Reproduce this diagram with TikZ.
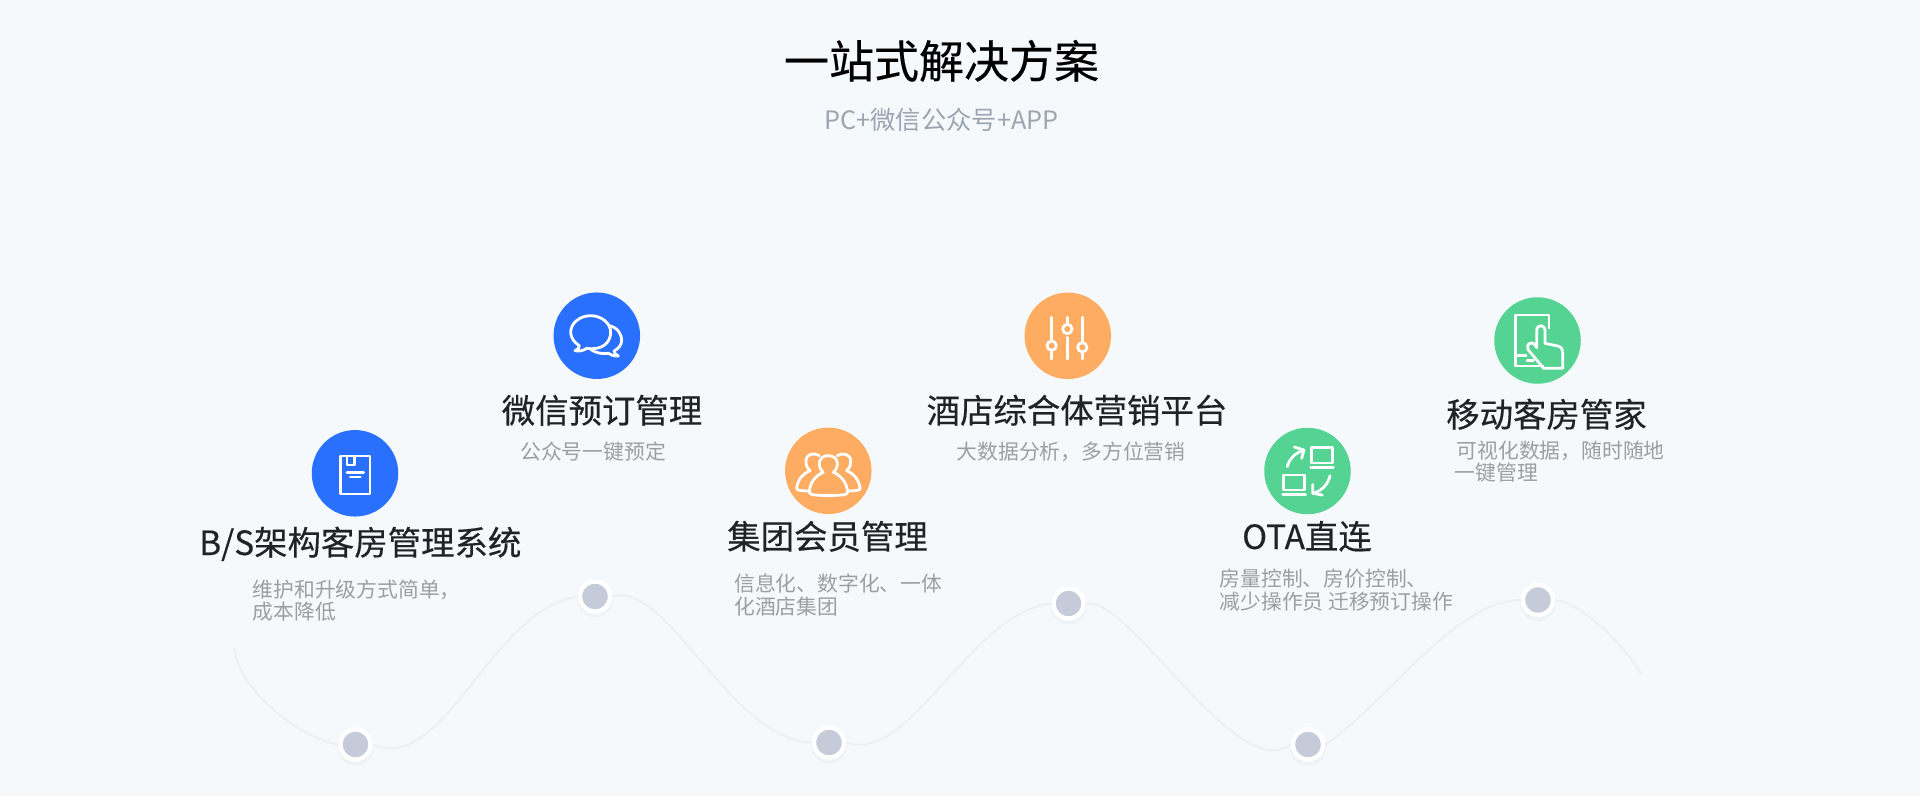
\documentclass[tikz,border=0pt]{standalone}
\usepackage{fontspec}
\setmainfont{Noto Sans CJK SC}
\newfontfamily\strongface[FakeBold=0.35]{Noto Sans CJK SC}
\definecolor{pagebg}{HTML}{F6F9FC}
\definecolor{bluec}{HTML}{2970FF}
\definecolor{orangec}{HTML}{FFAC63}
\definecolor{greenc}{HTML}{55D393}
\definecolor{dotc}{HTML}{C5CBD9}
\definecolor{curvec}{HTML}{ECEFF4}
\definecolor{headc}{HTML}{1F2226}
\definecolor{subc}{HTML}{9B9EA2}
\definecolor{subtitlec}{HTML}{9AA5B1}
\tikzset{
  disc/.style={circle,minimum size=86.5pt,inner sep=0pt,draw=none},
  track/.style={circle,minimum size=30pt,inner sep=0pt,fill=dotc,draw=white,line width=4.4pt},
  halo/.style={circle,minimum size=36pt,inner sep=0pt,fill=black,fill opacity=0.025,draw=none},
  head/.style={anchor=base,inner sep=0pt,text=headc,font=\strongface\fontsize{33.4}{36}\selectfont},
  note/.style={anchor=west,inner sep=0pt,align=left,text=subc,font=\fontsize{20.8}{22.5}\selectfont},
  glyph/.style={draw=white,line width=2.8pt,line cap=round,line join=round},
}
\begin{document}
\begin{tikzpicture}[x=1pt,y=-1pt]
\useasboundingbox (0,0) rectangle (1920,796);
\fill[pagebg] (0,0) rectangle (1920,796);

\coordinate (cs) at (234.4,648);
\coordinate (ce) at (1640.6,673);
\coordinate (d1p) at (355.5,744.5);
\coordinate (d2p) at (595,596.5);
\coordinate (d3p) at (829,742.5);
\coordinate (d4p) at (1068.5,603.5);
\coordinate (d5p) at (1308,744.5);
\coordinate (d6p) at (1538,600);

\foreach \n/\p in {a/d1p,b/d2p,c/d3p,d/d4p,e/d5p,f/d6p}{
  \node[halo] at ([yshift=-3pt]\p) {};
  \node[track] (dot\n) at (\p) {};
}

\draw[curvec,line width=1.8pt,line cap=round]
 (cs) .. controls (238,690) and (300,738) .. (dota.west)
 (dota.east) .. controls (445,775) and (490,610) .. (dotb.west)
 (dotb.east) .. controls (668,580) and (730,740) .. (dotc.west)
 (dotc.east) .. controls (910,765) and (970,612) .. (dotd.west)
 (dotd.east) .. controls (1130,595) and (1235,785) .. (dote.west)
 (dote.east) .. controls (1385,705) and (1455,600) .. (dotf.west)
 (dotf.east) .. controls (1575,602) and (1615,632) .. (ce);

\node[disc,fill=bluec] (c1) at (355,473.3) {};
\node[disc,fill=bluec] (c2) at (596.8,335.7) {};
\node[disc,fill=orangec] (c3) at (828.3,470.8) {};
\node[disc,fill=orangec] (c4) at (1067.8,335.8) {};
\node[disc,fill=greenc] (c5) at (1307.5,471) {};
\node[disc,fill=greenc] (c6) at (1537.5,340.5) {};

% title
\node[anchor=base,inner sep=0pt,text=black,font=\strongface\fontsize{45}{48}\selectfont] (title) at (941.5,78) {一站式解决方案};
\node[anchor=base,inner sep=0pt,text=subtitlec,font=\fontsize{25.3}{28}\selectfont] (subtitle) at (941.5,129) {PC+微信公众号+APP};

% headings
\node[head] (h1) at (360.3,555) {B/S架构客房管理系统};
\node[head] (h2) at (602,423) {微信预订管理};
\node[head] (h3) at (827.5,549) {集团会员管理};
\node[head] (h4) at (1077,423) {酒店综合体营销平台};
\node[head] (h5) at (1307,549) {OTA直连};
\node[head] (h6) at (1546.5,427) {移动客房管家};

% notes
\node[note] (n1) at (252.5,600.5) {维护和升级方式简单，\\成本降低};
\node[note,anchor=center] (n2) at (593,451.7) {公众号一键预定};
\node[note] (n3) at (734,595) {信息化、数字化、一体\\化酒店集团};
\node[note,anchor=center] (n4) at (1071,451.7) {大数据分析，多方位营销};
\node[note] (n5) at (1219.5,590) {房量控制、房价控制、\\减少操作员 迁移预订操作};
\node[note] (n6) at (1454.5,461.5) {\hspace{2pt}可视化数据，随时随地\\一键管理};

% icon: document
\begin{scope}[shift={(300,420)},xscale=0.3333,yscale=0.3333]
\draw[glyph,line cap=butt] (122,108) rectangle (210,222);
\draw[glyph,line cap=butt] (141,108) -- (141,135) -- (163,135) -- (163,108);
\draw[glyph] (141,157) -- (191,157);
\draw[glyph] (151,171) -- (181,171);
\end{scope}

% icon: chat
\begin{scope}[shift={(540,285)},xscale=0.3333,yscale=0.3333]
\draw[glyph] (118,182) .. controls (118,190) and (112,195) .. (105,197) .. controls (118,200) and (130,197) .. (140,190) .. controls (190,197) and (212,170) .. (212,142) .. controls (212,115) and (185,92) .. (152,92) .. controls (119,92) and (92,115) .. (92,142) .. controls (92,158) and (103,173) .. (118,182) -- cycle;
\draw[glyph] (208,122) .. controls (235,128) and (245,150) .. (245,165) .. controls (245,180) and (235,192) .. (222,198) .. controls (222,204) and (228,210) .. (235,213) .. controls (222,214) and (212,210) .. (205,205) .. controls (185,208) and (165,203) .. (152,193);
\end{scope}

% icon: people
\begin{scope}[shift={(780,425)},xscale=0.3333,yscale=0.3333]
\draw[glyph] (130,142) .. controls (112,128) and (112,92) .. (145,92) .. controls (178,92) and (178,128) .. (160,142) .. controls (180,150) and (200,170) .. (203,200) .. controls (203,210) and (195,210) .. (145,212) .. controls (95,210) and (88,210) .. (88,200) .. controls (90,170) and (110,150) .. (130,142) -- cycle;
\draw[glyph] (118,92) .. controls (105,82) and (75,85) .. (78,112) .. controls (78,125) and (85,132) .. (90,137) .. controls (70,145) and (52,165) .. (50,190) .. controls (50,195) and (55,197) .. (85,198);
\draw[glyph] (172,92) .. controls (185,82) and (215,85) .. (212,112) .. controls (212,125) and (205,132) .. (200,137) .. controls (220,145) and (238,165) .. (240,190) .. controls (240,195) and (235,197) .. (205,198);
\end{scope}

% icon: sliders
\begin{scope}[shift={(1020,290)},xscale=0.3333,yscale=0.3333]
\draw[glyph] (95,82) -- (95,150) (95,184) -- (95,207);
\draw[glyph] (95,167) circle (14);
\draw[glyph] (142,82) -- (142,100) (142,142) -- (142,207);
\draw[glyph] (142,117) circle (14);
\draw[glyph] (187,82) -- (187,155) (187,190) -- (187,207);
\draw[glyph] (187,172) circle (14);
\end{scope}

% icon: sync
\begin{scope}[shift={(1260,425)},xscale=0.3333,yscale=0.3333]
\draw[glyph] (155,68) rectangle (217,114);
\draw[glyph] (152,127) -- (220,127);
\draw[glyph] (70,150) rectangle (133,195);
\draw[glyph] (68,208) -- (137,208);
\draw[glyph] (82,125) .. controls (88,100) and (105,85) .. (130,76);
\draw[glyph] (103,66) -- (132,75) -- (125,100);
\draw[glyph] (210,152) .. controls (205,175) and (190,195) .. (160,205);
\draw[glyph] (158,178) -- (158,205) -- (187,210);
\end{scope}

% icon: tablet
\begin{scope}[shift={(1485,290)},xscale=0.3333,yscale=0.3333]
\draw[glyph,line cap=butt] (192,118) -- (192,75) -- (92,75) -- (92,228) -- (176,228);
\draw[glyph,line cap=butt] (92,197) -- (125,197);
\draw[glyph] (126,212) -- (145,212);
\draw[glyph] (155,173) -- (155,122) .. controls (155,102) and (180,102) .. (180,122) -- (180,160) -- (218,168) .. controls (228,170) and (233,178) .. (233,188) -- (233,235) -- (176,235) -- (130,180) .. controls (120,165) and (138,150) .. (150,165) -- (155,173);
\end{scope}
\end{tikzpicture}
\end{document}
